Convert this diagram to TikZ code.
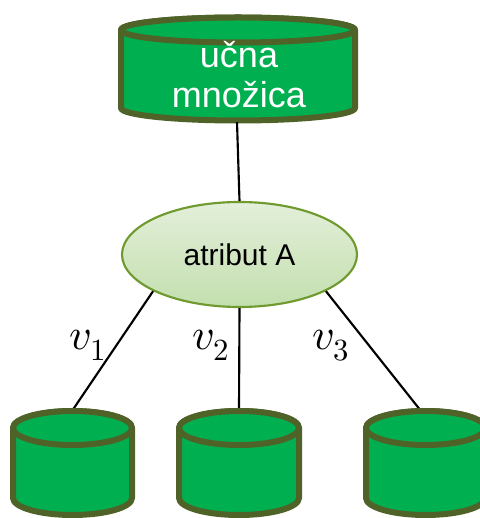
\documentclass[tikz,border=0pt]{standalone}
\usepackage{fontspec}
\setmainfont{Liberation Sans}
\usepackage{unicode-math}
\setmathfont{Latin Modern Math}
\usetikzlibrary{shapes.geometric}
\definecolor{cylfill}{HTML}{00B050}
\definecolor{cylline}{HTML}{4F6228}
\definecolor{elltop}{HTML}{E3EFDA}
\definecolor{ellbot}{HTML}{C3DFAE}
\definecolor{ellline}{HTML}{6E9A2E}
\newcommand{\mycyl}[5]{% cx, Ytop, Ybot, rx, ry
  \filldraw[cylbody] ({#1-#4},#2) -- ({#1-#4},#3)
    arc[start angle=180,end angle=360,x radius=#4,y radius=#5]
    -- ({#1+#4},#2)
    arc[start angle=0,end angle=180,x radius=#4,y radius=#5] -- cycle;
  \draw[cylbody] (#1,#2) ellipse[x radius=#4,y radius=#5];
}
\tikzset{
  cylbody/.style={fill=cylfill,draw=cylline,line width=4.5pt,line join=round},
  conn/.style={draw=black,line width=1.6pt},
  attr/.style={ellipse,draw=ellline,line width=1.6pt,top color=elltop,bottom color=ellbot,
    minimum width=176.25pt,minimum height=78.75pt,inner sep=0pt,
    font=\fontsize{22.5}{26}\selectfont},
  toptext/.style={text=white,font=\fontsize{27}{31}\selectfont,anchor=base,inner sep=0pt},
  vlab/.style={anchor=base west,inner sep=0pt,font=\fontsize{33}{38}\selectfont}
}
\begin{document}
\begin{tikzpicture}[x=0.75pt,y=0.75pt]
\useasboundingbox (0,0) rectangle (479,518);
% top cylinder
\mycyl{238}{488}{410}{117}{12.5}
\node[toptext] (t1) at (239,450) {učna};
\node[toptext] (t2) at (239,410) {množica};
\coordinate (c0) at (237,396);
% attribute ellipse
\node[attr] (ell) at (239.5,263.5) {atribut A};
% cylinder tops
\coordinate (c1) at (72,107);
\coordinate (c2) at (239,107);
\coordinate (c3) at (421,107);
% connectors
\draw[conn] (c0) -- (ell.north);
\draw[conn] (ell.203) -- (c1);
\draw[conn] (ell.south) -- (c2);
\draw[conn] (ell.337) -- (c3);
% labels
\node[vlab] (v1) at (69,168) {$v_1$};
\node[vlab] (v2) at (192,168) {$v_2$};
\node[vlab] (v3) at (312,168) {$v_3$};
% bottom cylinders
\mycyl{72.5}{90}{20}{59.5}{17}
\mycyl{239}{90}{20}{60}{17}
\mycyl{425.5}{90}{20}{59.5}{17}
\end{tikzpicture}
\end{document}
